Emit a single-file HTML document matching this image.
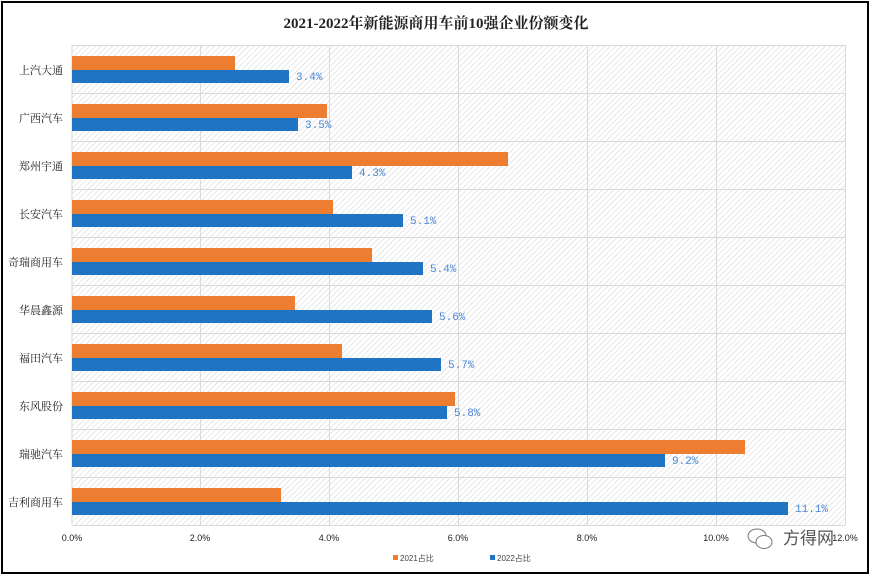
<!DOCTYPE html><html><head><meta charset="utf-8"><style>body{margin:0;background:#fff}</style></head><body>
<svg width="872" height="578" xmlns="http://www.w3.org/2000/svg" font-family="Liberation Sans, Noto Sans CJK SC, sans-serif">
<defs><pattern id="h" width="4" height="4" patternUnits="userSpaceOnUse" patternTransform="rotate(45)"><rect width="4" height="4" fill="#fff"/><line x1="0" y1="0" x2="0" y2="4" stroke="#d0d0d0" stroke-width="1"/></pattern></defs>
<rect x="2" y="2" width="866" height="571" fill="#fff" stroke="#000" stroke-width="2"/>
<text x="436" y="28" text-anchor="middle" font-size="15" font-weight="bold" font-family="Liberation Serif, Noto Serif CJK SC, serif" fill="#222">2021-2022年新能源商用车前10强企业份额变化</text>
<rect x="72" y="45" width="773" height="480" fill="url(#h)"/>
<g stroke="#d9d9d9" stroke-width="1">
<line x1="72" y1="45" x2="72" y2="525"/><line x1="200.5" y1="45" x2="200.5" y2="525"/><line x1="329.5" y1="45" x2="329.5" y2="525"/><line x1="458.5" y1="45" x2="458.5" y2="525"/><line x1="587.5" y1="45" x2="587.5" y2="525"/><line x1="716.5" y1="45" x2="716.5" y2="525"/><line x1="845.5" y1="45" x2="845.5" y2="525"/>
<line x1="72" y1="45.5" x2="845" y2="45.5"/><line x1="72" y1="93.5" x2="845" y2="93.5"/><line x1="72" y1="141.5" x2="845" y2="141.5"/><line x1="72" y1="189.5" x2="845" y2="189.5"/><line x1="72" y1="237.5" x2="845" y2="237.5"/><line x1="72" y1="285.5" x2="845" y2="285.5"/><line x1="72" y1="333.5" x2="845" y2="333.5"/><line x1="72" y1="381.5" x2="845" y2="381.5"/><line x1="72" y1="429.5" x2="845" y2="429.5"/><line x1="72" y1="477.5" x2="845" y2="477.5"/><line x1="72" y1="525.5" x2="845" y2="525.5"/>
</g>
<g fill="#ed7d31">
<rect x="72" y="56" width="163" height="14"/><rect x="72" y="104" width="255" height="14"/><rect x="72" y="152" width="436" height="14"/><rect x="72" y="200" width="261" height="14"/><rect x="72" y="248" width="300" height="14"/><rect x="72" y="296" width="223" height="14"/><rect x="72" y="344" width="270" height="14"/><rect x="72" y="392" width="383" height="14"/><rect x="72" y="440" width="673" height="14"/><rect x="72" y="488" width="209" height="14"/>
</g>
<g fill="#1f74c4">
<rect x="72" y="70" width="217" height="13"/><rect x="72" y="118" width="226" height="13"/><rect x="72" y="166" width="280" height="13"/><rect x="72" y="214" width="331" height="13"/><rect x="72" y="262" width="351" height="13"/><rect x="72" y="310" width="360" height="13"/><rect x="72" y="358" width="369" height="13"/><rect x="72" y="406" width="375" height="13"/><rect x="72" y="454" width="593" height="13"/><rect x="72" y="502" width="716" height="13"/>
</g>
<g fill="#4a86d4" font-size="11" font-family="Liberation Mono, monospace">
<text x="296" y="80">3.4%</text><text x="305" y="128">3.5%</text><text x="359" y="176">4.3%</text><text x="410" y="224">5.1%</text><text x="430" y="272">5.4%</text><text x="439" y="320">5.6%</text><text x="448" y="368">5.7%</text><text x="454" y="416">5.8%</text><text x="672" y="464">9.2%</text><text x="795" y="512">11.1%</text>
</g>
<g fill="#222" font-size="11" text-anchor="end" font-family="Liberation Serif, Noto Serif CJK SC, serif">
<text x="63" y="74">上汽大通</text><text x="63" y="122">广西汽车</text><text x="63" y="170">郑州宇通</text><text x="63" y="218">长安汽车</text><text x="63" y="266">奇瑞商用车</text><text x="63" y="314">华晨鑫源</text><text x="63" y="362">福田汽车</text><text x="63" y="410">东风股份</text><text x="63" y="458">瑞驰汽车</text><text x="63" y="506">吉利商用车</text>
</g>
<g fill="#222" font-size="9" text-anchor="middle">
<text x="72" y="541">0.0%</text><text x="200" y="541">2.0%</text><text x="329" y="541">4.0%</text><text x="458" y="541">6.0%</text><text x="587" y="541">8.0%</text><text x="716" y="541">10.0%</text><text x="845" y="541">12.0%</text>
</g>
<rect x="393" y="555" width="5" height="5" fill="#ed7d31"/><text x="400" y="561" font-size="8" fill="#444">2021占比</text>
<rect x="490" y="555" width="5" height="5" fill="#1f74c4"/><text x="497" y="561" font-size="8" fill="#444">2022占比</text>
<g fill="#fff" stroke="#777" stroke-width="1"><ellipse cx="757" cy="536" rx="9" ry="7"/><ellipse cx="764" cy="542" rx="8" ry="6.5"/></g>
<text x="783" y="544" font-size="17" fill="#555">方得网</text>
</svg>
</body></html>
